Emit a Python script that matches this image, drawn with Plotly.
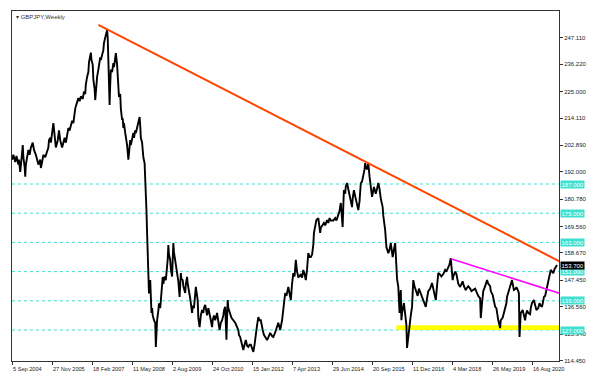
import numpy as np
import pandas as pd
import plotly.graph_objects as go

# ---------------- data (weekly GBPJPY) ----------------
START = "2004-09-05"   # first weekly bar
# weeks since START, and close values
weeks = [
    0, 2, 5, 7, 10, 11, 13, 14, 16, 17, 18, 20, 21, 22, 24, 26, 28, 30, 33, 35, 38, 40, 42, 45, 46, 48, 50, 53, 55, 58, 59, 61, 62, 64, 66, 68, 70, 73, 75, 77, 80,
    82, 84, 86, 88, 90, 92, 94, 96, 98, 99, 101, 102, 104, 106, 108, 110, 113, 115, 117, 118, 120, 122, 123, 125, 126, 127, 129, 130, 132, 133, 134, 136, 138, 139, 141, 142, 144, 146, 147, 149, 150, 152, 153, 154, 155, 156,
    157, 158, 160, 162, 163, 165, 166, 168, 169, 170, 171, 173, 174, 176, 177, 178, 179, 181, 182, 184, 186, 187, 189, 190, 192, 194, 195, 197, 198, 200, 201, 202, 204, 205, 206, 208, 209, 210, 212, 213, 214, 215, 216, 217, 218, 219,
    221, 222, 223, 224, 225, 227, 229, 230, 231, 232, 234, 235, 237, 238, 240, 241, 242, 244, 246, 248, 249, 250, 251, 253, 254, 256, 257, 258, 259, 261, 262, 264, 266, 268, 269, 270, 271, 273, 274, 277, 278, 280, 281, 283, 285, 288, 289, 291, 293, 294, 296, 297, 298, 300,
    302, 304, 306, 307, 309, 312, 314, 316, 318, 320, 321, 323, 325, 328, 330, 332, 334, 336, 338, 339, 341, 342, 343, 344, 345, 346, 349, 351, 354, 357, 360, 362, 363, 365, 366, 368, 370, 372, 374, 376, 378, 380, 382, 384, 386, 388, 390, 392, 394, 396, 398, 399, 401, 403, 405, 407, 408, 410,
    413, 416, 418, 421, 424, 426, 427, 429, 432, 434, 435, 437, 439, 442, 444, 446, 448, 450, 452, 454, 456, 458, 460, 462, 464, 466, 468, 470, 472, 474, 476, 478, 480, 482, 483, 485, 487, 490, 491, 493, 494, 497, 499, 501, 504, 506, 508, 510, 514, 517, 519, 522, 524, 526, 527, 529,
    530, 531, 533, 534, 536, 538, 539, 542, 544, 545, 547, 549, 552, 554, 556, 558, 560, 562, 564, 565, 566, 568, 570, 572, 574, 576, 577, 579, 581, 582, 584, 586, 588, 589, 590, 593, 594, 597, 598, 599, 602, 604, 606, 607, 609, 611, 613, 614, 615, 616, 618, 620, 621, 622, 623, 624, 627, 629, 630, 631, 632,
    634, 636, 638, 640, 641, 642, 644, 646, 649, 651, 654, 656, 658, 660, 662, 664, 666, 669, 672, 674, 676, 678, 680, 682, 684, 687, 690, 693, 695, 698, 700, 702, 703, 705, 706, 709, 711, 712, 714, 717, 719, 721, 723, 726, 727, 730, 733, 735, 738, 741, 744, 746, 749, 750,
    752, 753, 754, 757, 760, 762, 765, 766, 769, 771, 773, 775, 776, 778, 781, 782, 785, 787, 789, 791, 792, 794, 797, 800, 802, 803, 806, 807, 810, 811, 812, 813, 814, 817, 819, 821, 822, 824, 826, 829, 830, 832, 835, 837, 839, 842, 844, 846, 848, 850, 851, 853, 855, 858, 860, 862, 864, 866, 868, 870, 872,
]
closes = [
    197, 199, 196, 198.5, 195, 197, 192, 196, 200, 203, 198, 194, 190, 195, 198, 201, 199, 202, 204, 201, 199, 197, 195, 197, 193.6, 196, 199, 198, 200, 202, 205, 206, 204, 209, 212, 207, 202, 205, 209, 205, 202,
    204, 206, 204, 207, 210, 209, 211, 213, 212, 215, 218, 219, 221, 222.3, 221, 223, 222, 225, 224, 228, 231, 233, 237, 239, 241, 238, 236, 230, 226, 221.5, 226, 231, 234, 236, 239, 238, 240, 242, 245, 247.4, 249, 250.3, 247, 240, 226, 219.5,
    228, 234, 233, 236.7, 235, 238, 240.8, 236, 230, 226, 222.8, 224, 218, 213.3, 214, 210, 212, 208, 206.3, 203, 197, 201, 205, 203, 206, 208, 206, 209, 208, 210.4, 212, 213, 214.5, 211, 206, 204, 200, 198, 195.6, 190, 185.8, 176, 167, 155, 150, 142,
    147.5, 140, 134, 136, 133, 131, 129.9, 120, 128, 131, 135, 138, 136, 140, 145, 148.8, 146, 149, 147.5, 151.7, 156, 161.9, 158, 155.8, 152, 149, 156, 162.7, 159, 155.8, 153, 151.7, 147, 140.6, 145, 150.4, 148, 147.5, 145, 142.2, 146, 148.8, 146, 143.4, 140, 134, 137, 136, 141, 144.7, 141, 139, 132, 128.2,
    133, 135.2, 134, 136, 137.3, 133, 136, 134, 131, 128.2, 131, 133, 131, 134, 130, 127, 130, 131, 133, 135, 136.5, 130, 123, 132, 139.3, 136, 134, 132, 131, 130, 128.2, 127, 125, 124.1, 123, 121, 118.8, 121, 122.9, 120.5, 120, 121, 121, 119.5, 118, 121, 125.8, 129, 132.3, 131, 131, 129, 127, 125, 124.1, 123, 122.9, 124,
    125.8, 124.5, 124.1, 126, 128.2, 130, 129, 127, 131, 136, 140, 142.2, 141, 144.7, 142, 139.3, 146, 150.4, 149, 155.8, 151, 148.8, 149, 150, 148.5, 151.7, 150, 147.5, 152, 158.6, 157, 157, 158, 162, 166.9, 169, 172.2, 173, 170, 166.9, 169, 170, 171, 170, 172.2, 171, 173, 172, 172, 173, 172, 174.3, 176, 179.2, 175, 169.3,
    178, 184.5, 183, 186, 187.4, 185, 184, 180, 177.5, 181, 184.5, 182, 179, 176.3, 180, 187.4, 188, 189.9, 193, 195.6, 194, 193, 195.6, 190, 185, 181.7, 183, 185.8, 184, 183, 185, 187.4, 185, 183, 181, 177.5, 174, 168.1, 164, 161.1, 158.6, 160, 162.7, 160, 157, 160, 162.7, 158, 152.9, 148, 144.7, 134, 140, 143.4, 131, 134, 138.1, 134, 131, 129, 119.6,
    125, 128.2, 133, 136.5, 142, 147.5, 145, 143.4, 141, 144, 142, 141, 139.3, 138, 136.5, 140, 143, 144, 146.3, 144, 142, 139.3, 145, 150.4, 150, 149, 150, 151.7, 151, 152.5, 154, 156.5, 152, 147.5, 149, 151, 150, 149, 146, 144.7, 146, 147, 145, 143.4, 144, 145, 144, 143, 143.5, 144, 142.2, 141, 140, 131.9,
    138, 142, 143, 145, 147.5, 146, 145, 143, 141.5, 139, 136.5, 136, 134, 131, 127.8, 131, 132, 134, 135, 138, 140.6, 142, 145, 147.5, 145, 143.5, 144, 144.6, 143, 142, 124.1, 130, 134, 135.2, 133, 131, 133, 135, 134, 133.5, 136, 138.1, 139.3, 137, 135.2, 136, 138, 137, 136.5, 139, 140.6, 141, 143.4, 147.5, 150, 151.7, 151, 150.3, 152, 153, 153.7,
]
assert len(weeks) == len(closes)

last_price = 153.700

# horizontal levels (dotted turquoise, with labels on the price scale)
levels = [187.0, 175.0, 163.0, 151.0, 139.0, 127.0]

# trend lines (weeks, prices)
resist_weeks = [138, 876]
resist_prices = [252.4, 155.2]
down_weeks = [702, 876]
down_prices = [156.3, 142.1]
# support zone
zone_weeks = [615, 875.2]
zone_prices = [127.0, 129.0]

# price scale ticks
y_ticks = [114.450, 125.340, 136.560, 147.450, 158.670, 169.560, 180.780,
           192.000, 202.890, 214.110, 225.000, 236.220, 247.110]
# time scale ticks
x_tick_dates = ["2004-09-05", "2005-11-27", "2007-02-18", "2008-05-11", "2009-08-02",
                "2010-10-24", "2012-01-15", "2013-04-07", "2014-06-29", "2015-09-20",
                "2016-12-11", "2018-03-04", "2019-05-26", "2020-08-16"]
x_tick_text = ["5 Sep 2004", "27 Nov 2005", "18 Feb 2007", "11 May 2008", "2 Aug 2009",
               "24 Oct 2010", "15 Jan 2012", "7 Apr 2013", "29 Jun 2014", "20 Sep 2015",
               "11 Dec 2016", "4 Mar 2018", "26 May 2019", "16 Aug 2020"]

# ---------------- figure ----------------
start = pd.Timestamp(START)


def to_date(w):
    return start + pd.to_timedelta(np.asarray(w, dtype=float) * 7, unit="D")


FONT = "Liberation Sans, Arial, sans-serif"
TURQ = "#40E0D0"
AXC = "#333333"

fig = go.Figure()

for lv in levels:
    fig.add_shape(type="line", xref="paper", x0=0, x1=1, yref="y", y0=lv, y1=lv,
                  line=dict(color=TURQ, width=1, dash="dot"), layer="below")

zd = to_date(zone_weeks)
fig.add_shape(type="rect", xref="x", yref="y", x0=zd[0], x1=zd[1],
              y0=zone_prices[0], y1=zone_prices[1],
              fillcolor="#FFFF00", line=dict(width=0), layer="below")

fig.add_trace(go.Scatter(x=to_date(weeks), y=closes, mode="lines",
                         line=dict(color="black", width=1.9), hoverinfo="skip"))
fig.add_trace(go.Scatter(x=to_date(resist_weeks), y=resist_prices, mode="lines",
                         line=dict(color="#FF4500", width=2), hoverinfo="skip"))
fig.add_trace(go.Scatter(x=to_date(down_weeks), y=down_prices, mode="lines",
                         line=dict(color="#FF00FF", width=1.6), hoverinfo="skip"))

annotations = []
for lv in levels:
    annotations.append(dict(xref="paper", x=1, xanchor="left", xshift=1,
                            yref="y", y=lv, yanchor="middle",
                            text=f"{lv:.3f}", showarrow=False, bgcolor=TURQ,
                            borderpad=0.5, font=dict(family=FONT, size=6, color="white")))
annotations.append(dict(xref="paper", x=1, xanchor="left", xshift=1,
                        yref="y", y=last_price, yanchor="middle",
                        text=f"{last_price:.3f}", showarrow=False, bgcolor="black",
                        borderpad=0.5, font=dict(family=FONT, size=6, color="white")))
for d, t in zip(x_tick_dates, x_tick_text):
    annotations.append(dict(xref="x", x=d, xanchor="left", xshift=-1,
                            yref="paper", y=0, yanchor="top", yshift=-3,
                            text=t, showarrow=False,
                            font=dict(family=FONT, size=5.6, color="#222222")))
annotations.append(dict(xref="paper", x=0, xanchor="left", xshift=2,
                        yref="paper", y=1, yanchor="top", yshift=-1,
                        text="▾ GBPJPY,Weekly", showarrow=False,
                        font=dict(family=FONT, size=6, color="#333333")))

x_end = to_date([875.2])[0]
x_begin = to_date([-0.2])[0]

# the page body has an 8px default margin, so the figure is 8px smaller and
# its margins 8px tighter on the left/top to keep the plot box where it belongs
fig.update_layout(
    width=596, height=378,
    margin=dict(l=4, r=45, t=3, b=25),
    paper_bgcolor="white", plot_bgcolor="white",
    showlegend=False,
    annotations=annotations,
    xaxis=dict(type="date", range=[x_begin, x_end], showgrid=False, zeroline=False,
               showline=True, linecolor=AXC, linewidth=1, mirror=True,
               tickvals=x_tick_dates, showticklabels=False,
               ticks="outside", ticklen=3, tickcolor=AXC, tickwidth=1),
    yaxis=dict(side="right", range=[114.26, 258.1], showgrid=False, zeroline=False,
               showline=True, linecolor=AXC, linewidth=1, mirror=True,
               tickvals=y_ticks, ticktext=[f"{v:.3f}" for v in y_ticks],
               ticks="outside", ticklen=3, tickcolor=AXC, tickwidth=1,
               tickfont=dict(family=FONT, size=6, color="#222222")),
)

fig.write_html("out.html")
